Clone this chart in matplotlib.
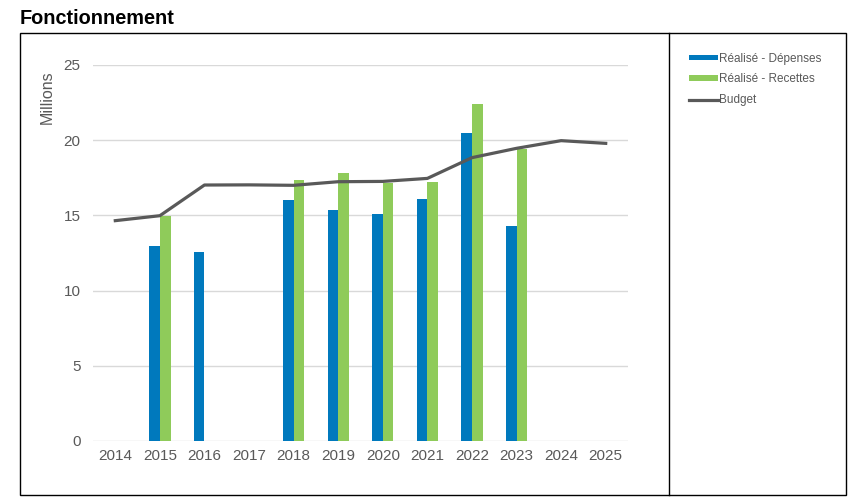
import numpy as np
import matplotlib.pyplot as plt
from matplotlib.patches import Rectangle
from matplotlib.lines import Line2D

plt.rcParams['font.family'] = ['Liberation Sans', 'DejaVu Sans']

# Data (millions)
years = ['2014', '2015', '2016', '2017', '2018', '2019', '2020', '2021', '2022', '2023', '2024', '2025']
depenses = [np.nan, 12.97, 12.59, np.nan, 16.02, 15.34, 15.12, 16.09, 20.5, 14.32, np.nan, np.nan]
recettes = [np.nan, 14.96, np.nan, np.nan, 17.35, 17.84, 17.15, 17.24, 22.39, 19.39, np.nan, np.nan]
budget = [14.65, 14.98, 17.02, 17.03, 17.0, 17.24, 17.26, 17.46, 18.84, 19.46, 19.97, 19.79]

blue = '#0079BD'
green = '#8FCB5A'
grey = '#595959'

fig = plt.figure(figsize=(8.51, 5.0), dpi=100)

# Outer frame and divider
fig.patches.append(Rectangle((20 / 851, 1 - 495 / 500), (846 - 20) / 851, (495 - 33) / 500,
                             transform=fig.transFigure, fill=False, edgecolor='black', linewidth=1))
fig.add_artist(Line2D([669 / 851, 669 / 851], [1 - 495 / 500, 1 - 33 / 500],
                      transform=fig.transFigure, color='black', linewidth=1))

fig.text(20 / 851, 1 - 19 / 500, 'Fonctionnement', fontsize=14.3, fontweight='bold',
         va='center', ha='left', color='black')

ax = fig.add_axes([93 / 851, 1 - 441 / 500, (628 - 93) / 851, (441 - 65) / 500])
x = np.arange(len(years))
w = 0.24
b1 = ax.bar(x - w / 2, depenses, width=w, color=blue, label='Réalisé - Dépenses', zorder=2)
b2 = ax.bar(x + w / 2, recettes, width=w, color=green, label='Réalisé - Recettes', zorder=2)
l1, = ax.plot(x, budget, color=grey, linewidth=2.3, label='Budget', zorder=3)

ax.set_xlim(-0.5, 11.5)
ax.set_ylim(0, 25)
ax.set_yticks([0, 5, 10, 15, 20, 25])
ax.set_xticks(x)
ax.set_xticklabels(years)
ax.grid(axis='y', color='#d9d9d9', linewidth=1, zorder=0)
ax.set_axisbelow(True)
for s in ax.spines.values():
    s.set_visible(False)
ax.tick_params(length=0, labelsize=11, colors=grey, pad=6)
ax.tick_params(axis='y', pad=9)
ax.set_ylabel('Millions', fontsize=11.5, color=grey)
ax.yaxis.set_label_coords(-0.071, 0.915)

ax.legend(handles=[b1, b2, l1], loc='upper left', bbox_to_anchor=(678 / 851, 1 - 42 / 500),
          bbox_transform=fig.transFigure, frameon=False, fontsize=8.5, labelcolor=grey,
          handlelength=2.5, handleheight=0.35, handletextpad=0.1, labelspacing=0.75)

fig.savefig('out.png', dpi=100)
